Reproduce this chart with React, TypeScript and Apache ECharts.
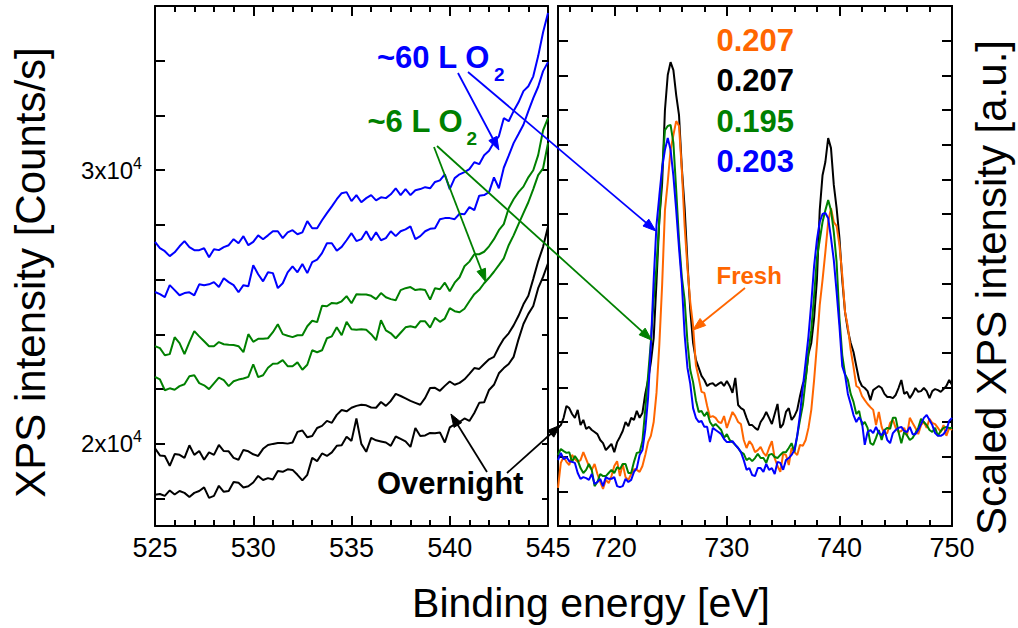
import React, { useEffect, useRef } from "react";
import * as echarts from "echarts";

const FONT = '"Liberation Sans", Arial, Helvetica, sans-serif';
const BLUE = "#0000ff";
const GREEN = "#008000";
const BLACK = "#000000";
const ORANGE = "#ff6600";

// Left panel: raw spectra in counts/s, one point every 0.25 eV starting at 525 eV
const LEFT_START = 525;
const LEFT_STEP = 0.25;

const blueUpper = [
  27380, 27150, 27040, 26860, 27000, 27220, 27410, 27190, 27080, 27080,
  27150, 26820, 27110, 27080, 27190, 27260, 27480, 27330, 27590, 27260,
  27380, 27620, 27480, 27620, 27770, 27770, 27520, 27730, 27810, 27660,
  27730, 28140, 27880, 27880, 28170, 28430, 28680, 28940, 29160, 29200,
  28870, 29090, 28830, 28980, 29090, 28900, 29010, 28980, 29120, 29340,
  29090, 29310, 29090, 29270, 29310, 29380, 29340, 29570, 29630, 29850,
  29310, 29710, 29850, 29930, 30040, 30290, 30220, 30550, 30710, 31020,
  31240, 31900, 31790, 32160, 32480, 32890, 33070, 33430, 34170, 35040, 35740,
];

const blueLower = [
  25550, 25470, 25360, 25800, 25620, 25430, 25510, 25540, 25430, 25830,
  25800, 25830, 25910, 25730, 26050, 25910, 25800, 25540, 25800, 25760,
  26530, 26200, 25940, 26270, 26240, 25690, 25870, 26270, 26490, 26270,
  26570, 26240, 26640, 26730, 26970, 27330, 27330, 27060, 27200, 27440,
  27700, 27410, 27480, 27770, 27440, 27730, 27440, 27520, 27770, 27590,
  27770, 27840, 27950, 27480, 27590, 27770, 27860, 27880, 28210, 28250,
  28250, 28210, 28410, 28390, 28650, 28540, 29070, 29090, 29200, 29740,
  29340, 30090, 30530, 30990, 31320, 31660, 32160, 32630, 33050, 33620, 33950,
];

const greenUpper = [
  23570, 23500, 23240, 23280, 23900, 23680, 23280, 23720, 24120, 23930,
  23750, 23570, 23570, 23720, 23640, 23620, 23610, 23570, 23350, 24010,
  23730, 23840, 23840, 23860, 24080, 24370, 24010, 23950, 23900, 23970,
  23970, 24300, 24500, 24450, 25050, 25030, 25150, 25130, 25210, 25400,
  25140, 25470, 25460, 25460, 25410, 25290, 25510, 25360, 25290, 25250,
  25620, 25690, 25730, 25620, 25650, 25620, 25270, 25690, 25650, 25890,
  25580, 25890, 26090, 26490, 26660, 26930, 26930, 27020, 27220, 27480,
  27810, 28030, 28610, 28940, 29200, 29400, 29740, 30000, 30550, 31460, 31900,
];

const greenLower = [
  22450, 22360, 21960, 22030, 21980, 22110, 22180, 22470, 22510, 22220,
  22140, 22000, 22210, 22420, 22330, 22110, 22290, 22350, 22390, 22450,
  22910, 22440, 22510, 22780, 22930, 22940, 23060, 22840, 22840, 22980,
  22710, 22890, 23420, 23350, 23420, 23860, 23930, 24260, 23970, 24460,
  24190, 24170, 24190, 24170, 24010, 23790, 24520, 24150, 24040, 23860,
  24060, 24260, 24300, 24250, 24480, 24480, 24250, 24610, 24460, 24580,
  24960, 24850, 24810, 24940, 25210, 25470, 25630, 25870, 26070, 26290,
  26530, 26780, 27260, 27620, 28030, 28430, 28830, 29310, 29820, 30070, 30990,
];

const blackUpper = [
  19840, 19580, 19560, 19200, 19630, 19600, 19490, 19950, 19600, 19740,
  19420, 19690, 19600, 19960, 19740, 19730, 19490, 19420, 19780, 19730,
  19620, 19560, 19820, 19960, 20000, 20030, 20030, 20010, 20050, 20440,
  20490, 20240, 20290, 20580, 20660, 20840, 20770, 21060, 21240, 21190,
  21320, 21390, 21430, 21410, 21330, 21320, 21530, 21390, 21570, 21830,
  21750, 21660, 21570, 21500, 21430, 21680, 22040, 22050, 21940, 22120,
  22280, 22160, 22230, 22360, 22560, 22770, 22740, 22920, 23090, 23180,
  23540, 23840, 24040, 24330, 24680, 25100, 25410, 26030, 26670, 27200, 27930,
];

const blackLower = [
  18140, 18170, 18100, 18300, 18150, 18280, 18210, 18060, 18210, 18280,
  18410, 18030, 18100, 18470, 18250, 18280, 18610, 18580, 18410, 18450,
  18590, 18830, 18680, 18750, 18700, 19010, 18980, 19070, 19050, 18870,
  18670, 18870, 19490, 19370, 19650, 19560, 19690, 19930, 19950, 20260,
  20110, 20930, 20000, 19710, 20220, 20130, 20090, 20050, 19930, 20270,
  20180, 20090, 19890, 20580, 20290, 20310, 20400, 20390, 20420, 20050,
  20600, 20710, 20800, 20930, 20840, 21130, 21500, 21520, 21970, 22160,
  22580, 22770, 22920, 23180, 23820, 24380, 24750, 25040, 25690, 26100, 26600,
];

// Right panel: scaled spectra (a.u.), one point every 0.25 eV starting at 715 eV
const RIGHT_START = 715;
const RIGHT_STEP = 0.25;

const scaledOvernight = [
  2.83, 2.91, 3.12, 3.46, 3.40, 3.23, 3.12, 3.35, 2.91, 3.06,
  2.80, 2.86, 2.77, 2.71, 2.65, 2.48, 2.39, 2.19, 2.28, 2.37,
  2.13, 2.42, 2.57, 2.74, 3.00, 2.88, 3.12, 3.06, 3.32, 3.12,
  3.26, 3.81, 4.21, 4.73, 5.42, 7.04, 8.83, 9.89, 12.00, 13.01,
  13.38, 13.15, 12.43, 11.85, 10.33, 9.17, 7.61, 6.23, 5.28, 4.79,
  4.56, 4.33, 4.21, 4.04, 4.10, 4.12, 4.04, 4.10, 4.15, 4.04,
  4.18, 4.04, 3.84, 4.27, 3.49, 3.40, 3.35, 3.12, 2.91, 2.91,
  2.83, 2.77, 3.00, 3.12, 3.29, 3.12, 2.94, 3.23, 3.52, 2.83,
  2.94, 3.29, 3.40, 3.06, 3.17, 3.35, 3.75, 4.10, 4.27, 4.96,
  5.28, 6.00, 7.10, 9.11, 10.12, 10.50, 11.19, 10.90, 9.84, 9.17,
  8.31, 7.10, 6.17, 5.65, 5.28, 5.02, 4.61, 4.21, 4.04, 3.98,
  3.89, 3.63, 3.92, 3.98, 4.04, 3.98, 3.81, 3.72, 3.72, 3.69,
  3.78, 3.98, 4.21, 3.81, 3.87, 3.69, 3.81, 3.98, 3.87, 3.89,
  3.98, 3.89, 3.69, 3.89, 3.95, 3.92, 3.87, 3.95, 4.04, 4.21, 4.07,
];

const scaledFresh = [
  1.10, 1.82, 1.99, 1.85, 1.76, 2.05, 1.93, 1.85, 1.90, 2.13,
  1.93, 1.73, 1.62, 1.79, 1.50, 1.27, 1.07, 1.33, 1.24, 1.44,
  1.73, 1.87, 1.44, 1.79, 1.41, 1.33, 1.50, 1.64, 1.62, 1.56,
  1.73, 2.05, 2.42, 2.60, 3.00, 3.84, 5.22, 6.95, 9.11, 9.92,
  10.85, 11.28, 11.68, 11.54, 10.27, 8.65, 7.44, 6.46, 5.77, 4.64,
  4.27, 3.87, 3.84, 3.46, 3.14, 3.17, 3.12, 3.00, 2.97, 3.17,
  2.83, 3.06, 3.29, 3.17, 3.00, 2.94, 2.48, 2.25, 2.45, 2.34,
  2.13, 2.19, 2.28, 2.11, 2.02, 2.25, 2.45, 1.96, 1.73, 1.56,
  2.08, 2.05, 1.76, 2.25, 2.13, 2.05, 2.34, 2.31, 2.48, 2.83,
  3.35, 4.21, 5.22, 6.37, 7.10, 7.90, 8.77, 9.17, 8.77, 8.65,
  8.10, 7.24, 6.17, 5.74, 5.08, 4.59, 4.04, 3.98, 3.75, 3.63,
  3.52, 3.43, 3.35, 2.91, 3.29, 2.86, 2.65, 2.68, 2.97, 3.06,
  2.83, 2.71, 2.74, 2.83, 2.60, 3.12, 2.97, 2.83, 2.65, 2.91,
  3.00, 2.83, 3.09, 2.97, 2.94, 2.83, 2.71, 2.91, 2.60, 2.83, 2.77,
];

const scaled6L = [
  2.05, 2.22, 2.16, 2.11, 2.13, 1.85, 2.02, 1.90, 1.67, 1.53,
  1.62, 1.79, 1.62, 1.15, 1.27, 1.50, 1.44, 1.44, 1.53, 1.62,
  1.53, 1.70, 1.64, 1.79, 1.79, 1.53, 1.53, 1.85, 2.11, 2.13,
  2.45, 3.35, 4.33, 5.31, 6.52, 7.50, 8.83, 10.27, 11.42, 11.54,
  11.57, 11.05, 9.69, 8.25, 7.18, 6.52, 5.31, 4.50, 4.15, 3.63,
  3.29, 3.32, 3.17, 3.29, 3.00, 2.88, 2.94, 2.86, 2.77, 2.54,
  2.65, 2.48, 2.42, 2.34, 2.25, 2.13, 2.08, 1.90, 1.96, 1.87,
  1.96, 2.08, 1.96, 1.96, 1.82, 2.05, 2.08, 1.99, 1.96, 2.05,
  2.13, 2.13, 2.25, 2.39, 2.13, 2.60, 3.06, 3.49, 4.21, 5.02,
  5.65, 6.63, 7.73, 8.25, 8.77, 9.11, 9.40, 9.11, 8.48, 7.61,
  6.00, 4.93, 4.38, 4.21, 3.81, 3.58, 3.23, 3.32, 2.91, 3.00,
  2.83, 2.39, 2.34, 2.54, 2.77, 2.48, 2.77, 2.83, 2.80, 3.12,
  3.12, 2.71, 2.39, 2.71, 2.62, 2.48, 2.54, 2.68, 2.83, 3.09,
  3.00, 2.91, 2.77, 2.71, 2.83, 2.60, 2.74, 2.83, 2.86, 2.83, 2.83,
];

const scaled60L = [
  1.90, 2.11, 1.93, 1.99, 1.87, 1.85, 1.82, 1.53, 1.36, 1.41,
  1.38, 1.33, 1.50, 1.21, 1.27, 1.36, 1.15, 1.41, 1.36, 1.36,
  1.41, 1.15, 1.12, 1.15, 1.36, 1.27, 1.33, 1.56, 1.67, 2.05,
  2.19, 2.77, 3.69, 5.22, 7.10, 8.68, 9.52, 10.33, 10.85, 11.19,
  10.85, 10.10, 9.11, 8.02, 7.01, 5.51, 4.56, 4.10, 3.40, 3.12,
  3.00, 3.03, 2.86, 2.86, 2.42, 2.83, 2.77, 2.71, 2.65, 2.51,
  2.42, 2.42, 2.45, 2.34, 2.25, 2.13, 1.90, 1.62, 1.67, 1.47,
  1.44, 1.67, 1.67, 1.56, 1.79, 1.62, 1.67, 1.50, 1.85, 1.82,
  1.62, 1.90, 1.96, 2.05, 2.19, 2.60, 3.23, 4.01, 4.73, 5.48,
  6.43, 7.50, 8.25, 8.77, 9.00, 9.03, 8.88, 8.31, 7.67, 6.75,
  5.77, 4.61, 4.36, 3.81, 3.52, 3.20, 3.00, 3.14, 3.00, 2.34,
  2.71, 2.77, 2.68, 2.86, 2.68, 2.62, 2.77, 2.48, 2.39, 2.68,
  2.77, 2.83, 2.86, 2.74, 2.71, 2.86, 2.65, 2.65, 2.77, 2.94,
  3.12, 3.20, 3.06, 2.91, 2.68, 2.60, 2.60, 2.65, 2.77, 3.03, 3.12,
];

// Tick positions
const leftYTicks = [18000, 20000, 22000, 24000, 26000, 28000, 30000, 32000, 34000];
const leftYLabels = [20000, 30000];
const rightXMajor = [720, 730, 740, 750];
const rightXMinor = [716, 718, 720, 722, 724, 726, 728, 730, 732, 734, 736, 738, 740, 742, 744, 746, 748, 750];

// Peak-area ratios printed in the right panel
const ratioTexts = ["0.207", "0.207", "0.195", "0.203"];
const ratioColors = [ORANGE, BLACK, GREEN, BLUE];

const toPairs = (start: number, step: number, ys: number[]) =>
  ys.map((y, i) => [start + i * step, y]);

const lineColorAxis = { color: "#000", width: 2 };

function leftX(position: "bottom" | "top") {
  return {
    type: "value",
    gridIndex: 0,
    position,
    min: 525,
    max: 545,
    interval: 5,
    axisLine: { show: true, onZero: false, lineStyle: lineColorAxis },
    axisTick: { show: true, inside: true, length: 10, lineStyle: lineColorAxis },
    minorTick: { show: true, splitNumber: 5, length: 6, lineStyle: lineColorAxis },
    splitLine: { show: false },
    axisLabel: {
      show: position === "bottom",
      fontSize: 27,
      color: "#000",
      fontFamily: FONT,
      margin: 8,
    },
  };
}

function rightX(position: "bottom" | "top", major: boolean) {
  return {
    type: "value",
    gridIndex: 1,
    position,
    min: 715,
    max: 750,
    axisLine: { show: true, onZero: false, lineStyle: lineColorAxis },
    axisTick: {
      show: true,
      inside: true,
      length: major ? 10 : 6,
      customValues: major ? rightXMajor : rightXMinor,
      lineStyle: lineColorAxis,
    },
    splitLine: { show: false },
    axisLabel: {
      show: major && position === "bottom",
      customValues: rightXMajor,
      fontSize: 27,
      color: "#000",
      fontFamily: FONT,
      margin: 8,
    },
  };
}

function leftY(position: "left" | "right") {
  return {
    type: "value",
    gridIndex: 0,
    position,
    min: 17000,
    max: 36000,
    axisLine: { show: true, onZero: false, lineStyle: lineColorAxis },
    axisTick: {
      show: true,
      inside: true,
      length: position === "left" ? 10 : 6,
      customValues: leftYTicks,
      lineStyle: lineColorAxis,
    },
    splitLine: { show: false },
    axisLabel: {
      show: position === "left",
      customValues: leftYLabels,
      formatter: (v: number) => `${v / 10000}x10{sup|4}`,
      fontSize: 24,
      lineHeight: 30,
      color: "#000",
      fontFamily: FONT,
      margin: 13,
      rich: {
        sup: { fontSize: 16, fontFamily: FONT, color: "#000", verticalAlign: "top", lineHeight: 30 },
      },
    },
  };
}

function rightY(position: "left" | "right") {
  return {
    type: "value",
    gridIndex: 1,
    position,
    min: 0,
    max: 15,
    interval: 1,
    axisLine: { show: true, onZero: false, lineStyle: lineColorAxis },
    axisTick: { show: true, inside: true, length: 10, lineStyle: lineColorAxis },
    splitLine: { show: false },
    axisLabel: { show: false },
  };
}

function line(name: string, data: number[][], color: string, xi: number, yi: number) {
  return {
    name,
    type: "line",
    xAxisIndex: xi,
    yAxisIndex: yi,
    data,
    showSymbol: false,
    symbol: "none",
    lineStyle: { color, width: 2 },
    itemStyle: { color },
    emphasis: { disabled: true },
    silent: true,
    z: 3,
  };
}

// Arrow annotations: start point in pixels, tip in data coordinates of a panel's series
const arrowSpecs = [
  { color: BLUE, from: [458, 73], seriesIndex: 0, at: [542.5, 30740] },
  { color: BLUE, from: [468, 72], seriesIndex: 6, at: [723.69, 8.51] },
  { color: GREEN, from: [434, 147], seriesIndex: 0, at: [541.84, 25916] },
  { color: GREEN, from: [437, 146], seriesIndex: 6, at: [723.33, 5.36] },
  { color: BLACK, from: [487, 472], seriesIndex: 0, at: [540.06, 21092] },
  { color: BLACK, from: [507, 473], seriesIndex: 6, at: [715.22, 2.91] },
  { color: ORANGE, from: [745, 288], seriesIndex: 6, at: [726.97, 5.65] },
];

function textEl(
  text: string,
  x: number,
  y: number,
  size: number,
  color: string,
  bold: boolean,
  align: string = "left",
  rotation: number = 0
) {
  return {
    type: "text",
    x,
    y,
    rotation,
    z: 10,
    silent: true,
    style: {
      text,
      fill: color,
      fontSize: size,
      fontWeight: bold ? "bold" : "normal",
      fontFamily: FONT,
      align,
      verticalAlign: "middle",
      textAlign: align,
      textVerticalAlign: "middle",
    },
  };
}

export default function App() {
  const ref = useRef<HTMLDivElement>(null);

  useEffect(() => {
    if (!ref.current) return;
    const chart = echarts.init(ref.current, undefined, { renderer: "svg" });

    const option = {
      animation: false,
      backgroundColor: "#ffffff",
      grid: [
        { left: 155, top: 6, width: 393, height: 520 },
        { left: 558, top: 6, width: 394, height: 520 },
      ],
      xAxis: [
        leftX("bottom"),
        leftX("top"),
        rightX("bottom", true),
        rightX("bottom", false),
        rightX("top", true),
        rightX("top", false),
      ],
      yAxis: [leftY("left"), leftY("right"), rightY("left"), rightY("right")],
      series: [
        line("60 L upper", toPairs(LEFT_START, LEFT_STEP, blueUpper), BLUE, 0, 0),
        line("60 L lower", toPairs(LEFT_START, LEFT_STEP, blueLower), BLUE, 0, 0),
        line("6 L upper", toPairs(LEFT_START, LEFT_STEP, greenUpper), GREEN, 0, 0),
        line("6 L lower", toPairs(LEFT_START, LEFT_STEP, greenLower), GREEN, 0, 0),
        line("Overnight upper", toPairs(LEFT_START, LEFT_STEP, blackUpper), BLACK, 0, 0),
        line("Overnight lower", toPairs(LEFT_START, LEFT_STEP, blackLower), BLACK, 0, 0),
        line("Overnight", toPairs(RIGHT_START, RIGHT_STEP, scaledOvernight), BLACK, 2, 2),
        line("Fresh", toPairs(RIGHT_START, RIGHT_STEP, scaledFresh), ORANGE, 2, 2),
        line("6 L", toPairs(RIGHT_START, RIGHT_STEP, scaled6L), GREEN, 2, 2),
        line("60 L", toPairs(RIGHT_START, RIGHT_STEP, scaled60L), BLUE, 2, 2),
      ],
    };
    chart.setOption(option as any);

    const graphics: any[] = [];

    // Arrows
    arrowSpecs.forEach((a) => {
      const tip = chart.convertToPixel({ seriesIndex: a.seriesIndex }, a.at) as number[];
      const dx = tip[0] - a.from[0];
      const dy = tip[1] - a.from[1];
      const len = Math.sqrt(dx * dx + dy * dy);
      const ux = dx / len;
      const uy = dy / len;
      const headL = 13;
      const headW = 4.5;
      const bx = tip[0] - ux * headL;
      const by = tip[1] - uy * headL;
      graphics.push({
        type: "line",
        z: 9,
        silent: true,
        shape: { x1: a.from[0], y1: a.from[1], x2: bx + ux * 2, y2: by + uy * 2 },
        style: { stroke: a.color, lineWidth: 1.8 },
      });
      graphics.push({
        type: "polygon",
        z: 9,
        silent: true,
        shape: {
          points: [
            [tip[0], tip[1]],
            [bx - uy * headW, by + ux * headW],
            [bx + uy * headW, by - ux * headW],
          ],
        },
        style: { fill: a.color, stroke: a.color, lineWidth: 1 },
      });
    });

    // Exposure labels
    graphics.push(textEl("~60 L O", 377, 57, 31, BLUE, true));
    graphics.push(textEl("2", 494, 74, 19, BLUE, true));
    graphics.push(textEl("~6 L O", 367.5, 121, 31, GREEN, true));
    graphics.push(textEl("2", 466.5, 138, 19, GREEN, true));
    graphics.push(textEl("Overnight", 377, 483, 31, BLACK, true));
    graphics.push(textEl("Fresh", 716.5, 275.5, 24, ORANGE, true));

    // Ratios
    ratioTexts.forEach((t, i) => {
      graphics.push(textEl(t, 716.5, 40.5 + i * 40.3, 31, ratioColors[i], true));
    });

    // Axis titles
    graphics.push(textEl("Binding energy [eV]", 591, 603, 41, BLACK, false, "center"));
    graphics.push(textEl("XPS intensity [Counts/s]", 30, 272.5, 42, BLACK, false, "center", Math.PI / 2));
    graphics.push(textEl("Scaled XPS intensity [a.u.]", 991.5, 287.5, 42, BLACK, false, "center", Math.PI / 2));

    chart.setOption({ graphic: graphics } as any);

    return () => {
      chart.dispose();
    };
  }, []);

  return (
    <div
      ref={ref}
      style={{
        position: "fixed",
        left: 0,
        top: 0,
        width: 1018,
        height: 628,
        background: "#ffffff",
      }}
    />
  );
}
